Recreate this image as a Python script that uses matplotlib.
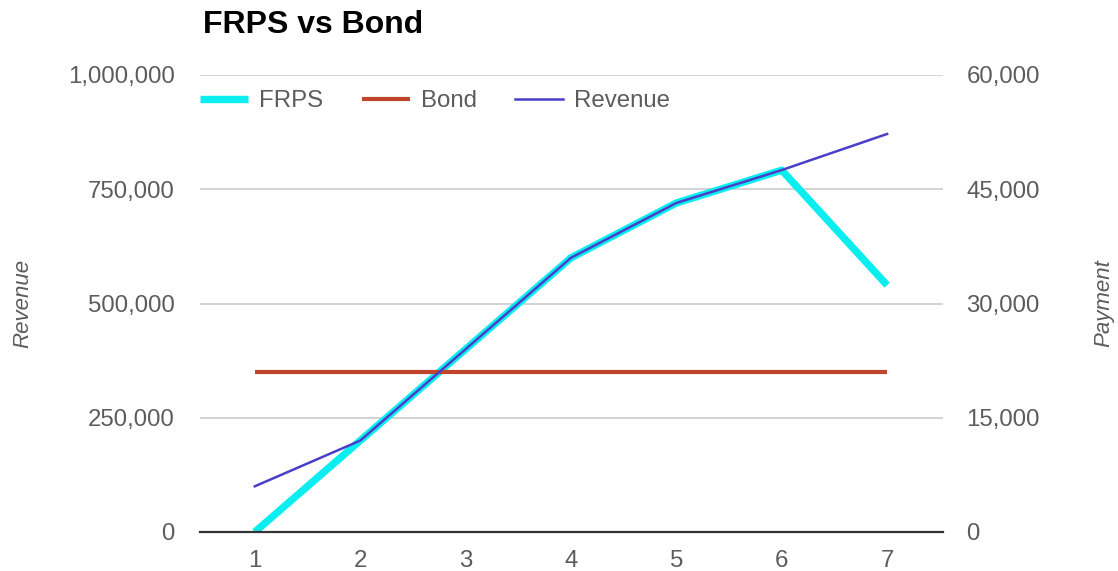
import matplotlib
matplotlib.use("Agg")
import matplotlib.pyplot as plt
from matplotlib.ticker import FuncFormatter

# Data
periods = [1, 2, 3, 4, 5, 6, 7]
revenue = [100000, 200000, 400000, 600000, 720000, 792000, 871000]
frps = [0, 12000, 24000, 36000, 43200, 47500, 32400]
bond = [21000, 21000, 21000, 21000, 21000, 21000, 21000]
left_ticks = [0, 250000, 500000, 750000, 1000000]
right_ticks = [0, 15000, 30000, 45000, 60000]

plt.rcParams['font.family'] = ['Liberation Sans', 'DejaVu Sans']

W, H = 1118, 571
fig = plt.figure(figsize=(W / 100, H / 100), dpi=100)
L, R, T, B = 200, 943, 75, 532
ax1 = fig.add_axes([L / W, (H - B) / H, (R - L) / W, (B - T) / H])
ax2 = ax1.twinx()
ax1.set_zorder(ax2.get_zorder() + 1)
ax1.patch.set_visible(False)

c_frps = '#0aeef0'
c_bond = '#c0452a'
c_rev = '#4a3fc8'
tick_color = '#5c5c5c'

h_frps, = ax2.plot(periods, frps, color=c_frps, lw=5.3, solid_capstyle='butt', label='FRPS', zorder=2)
h_bond, = ax2.plot(periods, bond, color=c_bond, lw=3, solid_capstyle='butt', label='Bond', zorder=3)
h_rev, = ax1.plot(periods, revenue, color=c_rev, lw=1.8, label='Revenue', zorder=4)

ax1.set_xlim(0.48, 7.53)
ax1.set_ylim(0, 1000000)
ax2.set_ylim(0, 60000)
ax1.set_yticks(left_ticks)
ax2.set_yticks(right_ticks)
ax1.set_xticks(periods)
fmt = FuncFormatter(lambda v, p: f"{int(v):,}")
ax1.yaxis.set_major_formatter(fmt)
ax2.yaxis.set_major_formatter(fmt)

# grid on lower axis
ax2.grid(axis='y', color='#cccccc', lw=1.2, zorder=0)
ax2.set_axisbelow(True)
ax1.grid(False)

for ax in (ax1, ax2):
    for s in ax.spines.values():
        s.set_visible(False)
ax1.spines['bottom'].set_visible(True)
ax1.spines['bottom'].set_color('#333333')
ax1.spines['bottom'].set_linewidth(1.6)

ax1.tick_params(axis='y', length=0, pad=18, labelsize=17.3, labelcolor=tick_color)
ax2.tick_params(axis='y', length=0, pad=17, labelsize=17.3, labelcolor=tick_color)
ax1.tick_params(axis='x', length=0, pad=13, labelsize=17.3, labelcolor=tick_color)
ax2.tick_params(axis='x', length=0)

fig.text(203 / W, 1 - 33 / H, 'FRPS vs Bond', fontsize=23, fontweight='bold',
         color='#000000', ha='left', va='baseline')
fig.text(23 / W, 1 - 303 / H, 'Revenue', rotation=90, fontsize=16, style='italic',
         color=tick_color, ha='center', va='center')
fig.text(1104 / W, 1 - 303 / H, 'Payment', rotation=90, fontsize=16, style='italic',
         color=tick_color, ha='center', va='center')

leg = ax1.legend(handles=[h_frps, h_bond, h_rev], loc='center left',
                 bbox_to_anchor=(0, (B - 101) / (B - T)), ncol=3, frameon=False,
                 fontsize=17.3, handlelength=2.0, handletextpad=0.46,
                 columnspacing=1.6, borderpad=0, borderaxespad=0)
for t in leg.get_texts():
    t.set_color(tick_color)

fig.savefig('out.png', dpi=100)
